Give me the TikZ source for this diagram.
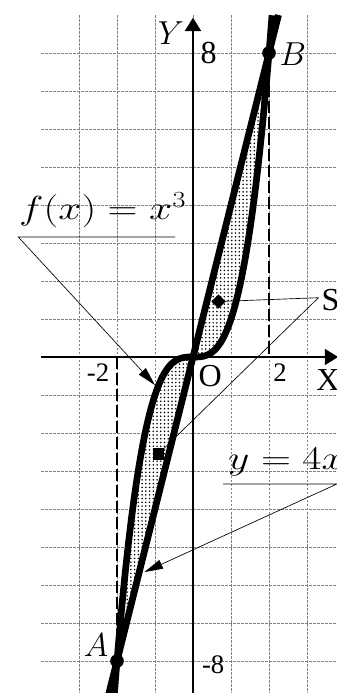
\documentclass[tikz,border=0pt]{standalone}
\usepackage{amsmath}
\usepackage{fontspec}
\setmainfont{Liberation Serif}
\usetikzlibrary{arrows.meta,patterns.meta,shapes.geometric}

\begin{document}
\begin{tikzpicture}[x=1cm,y=1cm,>={Triangle[length=14pt,width=7pt]},
  gridline/.style={gray,line width=0.5pt,dash pattern=on 2pt off 1pt},
  axis/.style={line width=1.3pt,-{Triangle[length=10pt,width=12pt]}},
  graph/.style={line width=5pt},
  drop/.style={line width=2.2pt,dash pattern=on 9pt off 3pt},
  lead/.style={line width=0.5pt},
  num/.style={font=\fontsize{20}{22}\selectfont,inner sep=0pt},
  lbl/.style={font=\fontsize{24}{27}\selectfont,inner sep=0pt}]
\clip (-5.079,-8.842) rectangle (3.789,9.395);
% grid
\foreach \x in {-3,...,3} \draw[gridline] (\x,9)--(\x,-9);
\foreach \y in {-8,...,8} \draw[gridline] (-4,\y)--(4,\y);
\draw[drop] (2,8)--(2,0);
\draw[drop] (-2,0)--(-2,-8);
\draw[axis] (-4,0)--(3.82,0);
\draw[axis] (0,-9)--(0,8.93);
% area between the graphs
\fill[white] plot[domain=-2:2,samples=80] (\x,{\x*\x*\x}) -- cycle;
\fill[pattern={Dots[distance=2.8pt,radius=0.65pt]}] plot[domain=-2:2,samples=80] (\x,{\x*\x*\x}) -- cycle;
% S and its leaders
\node[lbl] (Slab) at (3.62,1.5) {S};
\coordinate (mUp) at (0.67,1.46);
\coordinate (mLow) at (-0.91,-2.55);
\coordinate (sFoot) at (3.3,1.56);
\draw[lead] (sFoot)--(mUp);
\draw[lead] (sFoot)--(mLow);
% graphs
\draw[graph] plot[domain=-2.12:2.08,samples=100] (\x,{\x*\x*\x});
\draw[graph] (-2.3,-9.2)--(2.25,9);
\node[diamond,fill,inner sep=0pt,minimum size=0.38cm] at (mUp) {};
\node[rectangle,fill,inner sep=0pt,minimum size=0.3cm] at (mLow) {};
\fill (2,8) circle (0.18) (-2,-8) circle (0.18);
% labels
\node[lbl] (Ylab) at (-0.58,8.53) {$Y$};
\node[lbl] (eight) at (0.41,8.0) {8};
\node[lbl] (Blab) at (2.63,7.97) {$B$};
\node[num] (mtwo) at (-2.5,-0.42) {-2};
\node[lbl] (Olab) at (0.45,-0.5) {O};
\node[num] (two) at (2.29,-0.42) {2};
\node[lbl] (Xlab) at (3.55,-0.6) {X};
\node[num] (meight) at (0.53,-8.1) {-8};
\node[lbl] (Alab) at (-2.55,-7.58) {$A$};
% formulas and their leaders
\node[lbl,anchor=base west] (flab) at (-4.58,3.62) {\scalebox{1.25}[1]{$f(x)=x^3$}};
\node[lbl,anchor=base west] (glab) at (0.92,-2.97) {\scalebox{1.25}[1]{$y=4x$}};
\coordinate (fA) at (-4.6,3.16);
\coordinate (fB) at (-0.47,3.16);
\coordinate (fTip) at (-1.0,-0.74);
\draw[lead,->] (fB)--(fA)--(fTip);
\coordinate (gA) at (0.79,-3.34);
\coordinate (gB) at (3.79,-3.34);
\coordinate (gTip) at (-1.28,-5.66);
\draw[lead,->] (gA)--(gB)--(gTip);
\end{tikzpicture}
\end{document}
